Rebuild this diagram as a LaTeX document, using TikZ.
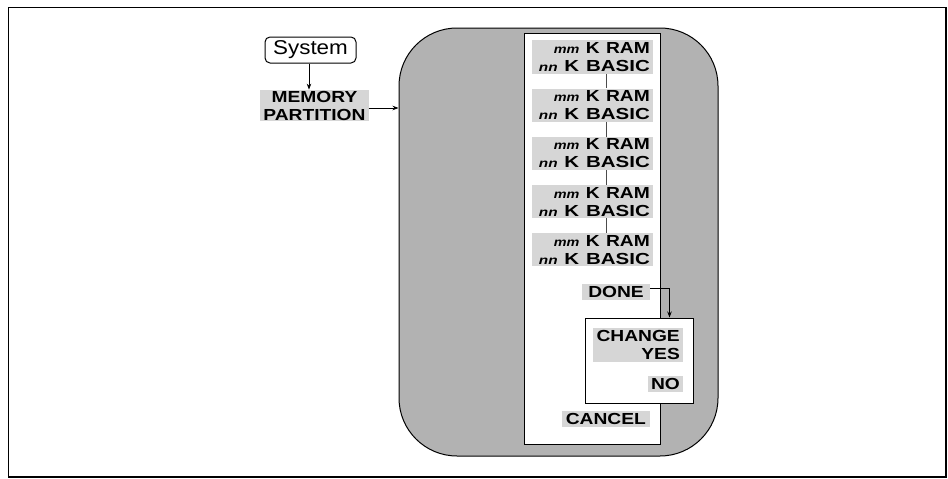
\documentclass[tikz,border=0pt]{standalone}
\usepackage{fontspec}
\setmainfont{Liberation Sans}
\usetikzlibrary{arrows.meta}
\newcommand\wx[2][1.2]{\scalebox{#1}[1]{#2}}
\newcommand\smit[1]{{\fontsize{12}{12}\selectfont\itshape #1}}
\begin{document}
\begin{tikzpicture}[x=1pt,y=-1pt,
  lbl/.style={fill=black!16, inner xsep=3pt, inner ysep=2pt, font=\bfseries\fontsize{16}{18}\selectfont},
  grp/.style={lbl, text width=115pt, align=right, anchor=east},
  conn/.style={line width=0.8pt},
  arr/.style={conn, -{Stealth[length=6pt,width=4.5pt]}}]
\useasboundingbox (0,0) rectangle (948,479);
\node[draw, line width=1.6pt, minimum width=937.5pt, minimum height=469.5pt, inner sep=0] (frame) at (477.25,242.25) {};
% left part
\node[draw, rounded corners=5pt, line width=1pt, minimum width=91pt, minimum height=26pt, inner sep=0,
      font=\fontsize{20}{20}\selectfont] (sys) at (310.5,50) {\wx[1.12]{System}};
\node[lbl, align=center, inner ysep=1pt] (mp) at (314.5,105.5) {\wx{MEMORY}\\\wx{PARTITION}};
\draw[arr] (sys.south -| 309,0) -- (mp.north -| 309,0);
% big shaded area
\node[draw, line width=1pt, fill=black!30, rounded corners=58pt, minimum width=319pt, minimum height=428pt, inner sep=0] (big) at (558.5,242) {};
\draw[arr] ([yshift=-2.5pt]mp.east) -- ([yshift=-2.5pt]mp.east -| big.west);
\node[draw, line width=1pt, fill=white, minimum width=136pt, minimum height=411pt, inner sep=0] (panel) at (592,238.5) {};
% groups
\node[grp] (g1) at (653,57)    {\wx{\smit{mm} K RAM}\\\wx[1.28]{\smit{nn} K BASIC}};
\node[grp] (g2) at (653,105.2) {\wx{\smit{mm} K RAM}\\\wx[1.28]{\smit{nn} K BASIC}};
\node[grp] (g3) at (653,153.4) {\wx{\smit{mm} K RAM}\\\wx[1.28]{\smit{nn} K BASIC}};
\node[grp] (g4) at (653,201.6) {\wx{\smit{mm} K RAM}\\\wx[1.28]{\smit{nn} K BASIC}};
\node[grp] (g5) at (653,249.8) {\wx{\smit{mm} K RAM}\\\wx[1.28]{\smit{nn} K BASIC}};
\coordinate (cx) at (606,0);
\foreach \a/\b in {g1/g2,g2/g3,g3/g4,g4/g5}
  \draw[line width=0.5pt, black!70] (\a.south -| cx) -- (\b.north -| cx);
\node[lbl, anchor=east, inner xsep=6pt] (done) at (650,292) {\wx{DONE}};
% change box
\node[draw, line width=1pt, fill=white, minimum width=108pt, minimum height=85pt, inner sep=0] (chg) at (639,360.5) {};
\node[lbl, text width=84pt, align=right, anchor=east] (cy) at (683,345) {\wx{CHANGE}\\\wx{YES}};
\node[lbl, anchor=east] (no) at (683,384) {\wx{NO}};
\draw[arr] ([yshift=4pt]done.east) -| ([xshift=-24pt]chg.north east);
\node[lbl, anchor=east, inner xsep=4pt] (cancel) at (650,419) {\wx{CANCEL}};
\end{tikzpicture}
\end{document}
